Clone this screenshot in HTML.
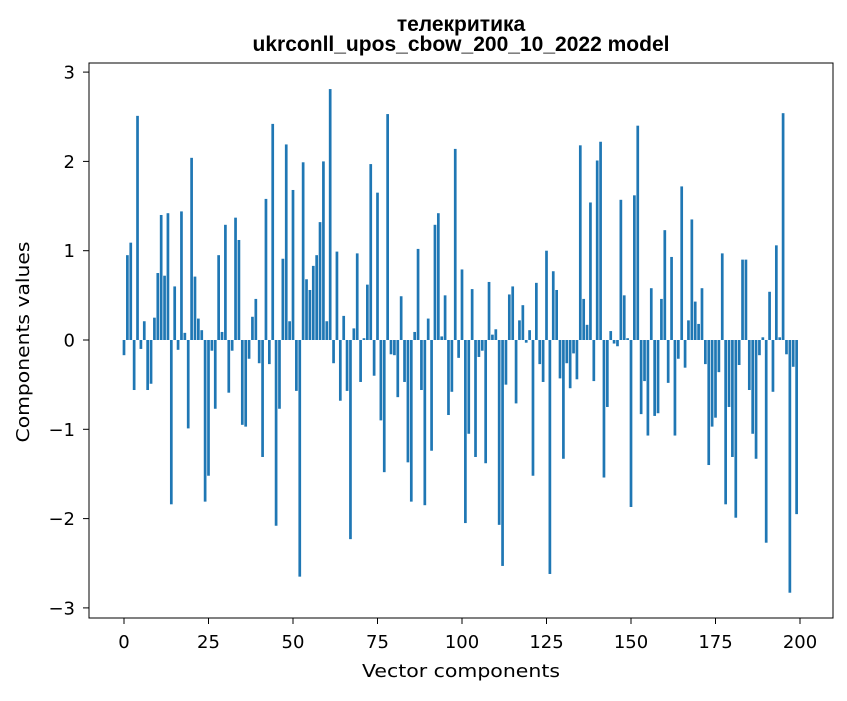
<!DOCTYPE html>
<html><head><meta charset="utf-8"><style>
body{margin:0;background:#fff;}
svg text{font-family:"DejaVu Sans","Liberation Sans",sans-serif;fill:#000;}
svg text.title{font-family:"Liberation Sans","DejaVu Sans",sans-serif;font-weight:bold;}
</style></head><body>
<svg id="chart" width="847" height="696" xmlns="http://www.w3.org/2000/svg">
<rect width="847" height="696" fill="#fff"/>
<text class="title" x="461" y="31" text-anchor="middle" font-size="21">телекритика</text>
<text class="title" x="461" y="51" text-anchor="middle" font-size="21" textLength="417" lengthAdjust="spacingAndGlyphs">ukrconll_upos_cbow_200_10_2022 model</text>
<g id="bars"></g>
<rect x="89" y="63" width="744" height="555" fill="none" stroke="#000" stroke-width="1"/>
<g id="xticks"></g>
<g id="yticks"></g>
<text x="461" y="677" text-anchor="middle" font-size="18" textLength="198" lengthAdjust="spacingAndGlyphs">Vector components</text>
<text transform="translate(29,342) rotate(-90)" text-anchor="middle" font-size="18" textLength="201" lengthAdjust="spacingAndGlyphs">Components values</text>
</svg>
<script>
const values = [-0.17,0.95,1.09,-0.56,2.51,-0.10,0.21,-0.56,-0.49,0.25,
0.75,1.40,0.72,1.42,-1.84,0.60,-0.11,1.44,0.08,-0.99,
2.04,0.71,0.24,0.11,-1.81,-1.52,-0.12,-0.77,0.95,0.09,
1.29,-0.59,-0.12,1.37,1.12,-0.95,-0.97,-0.21,0.26,0.46,
-0.26,-1.31,1.58,-0.27,2.42,-2.08,-0.77,0.91,2.19,0.21,
1.68,-0.57,-2.65,1.99,0.68,0.56,0.83,0.95,1.32,2.00,
0.21,2.81,-0.26,0.99,-0.68,0.27,-0.57,-2.23,0.13,0.97,
-0.47,0.02,0.62,1.97,-0.40,1.65,-0.90,-1.48,2.53,-0.16,
-0.17,-0.64,0.49,-0.47,-1.37,-1.81,0.09,1.02,-0.56,-1.85,
0.24,-1.24,1.29,1.42,0.04,0.50,-0.84,-0.58,2.14,-0.20,
0.79,-2.05,-1.05,0.57,-1.31,-0.19,-0.12,-1.38,0.65,0.06,
0.12,-2.07,-2.53,-0.50,0.51,0.60,-0.71,0.22,0.39,-0.03,
0.11,-1.52,0.64,-0.27,-0.47,1.00,-2.62,0.77,0.56,-0.43,
-1.33,-0.26,-0.54,-0.15,-0.44,2.18,0.46,0.17,1.54,-0.46,
2.01,2.22,-1.54,-0.75,0.10,-0.04,-0.07,1.57,0.50,0.02,
-1.87,1.62,2.40,-0.83,-0.46,-1.07,0.58,-0.85,-0.82,0.46,
1.23,-0.48,0.93,-1.07,-0.21,1.72,-0.31,0.22,1.35,0.43,
0.18,0.58,-0.27,-1.40,-0.97,-0.87,-0.36,0.97,-1.84,-0.75,
-1.31,-1.99,-0.28,0.90,0.90,-0.56,-1.05,-1.33,-0.17,0.03,
-2.27,0.54,-0.58,1.06,0.03,2.54,-0.16,-2.83,-0.30,-1.95];
const xTicks = [0,25,50,75,100,125,150,175,200];
const yTicks = [-3,-2,-1,0,1,2,3];
const NS='http://www.w3.org/2000/svg';
const xs = v => 124 + v*(676/200);
const ys = v => 340 - v*89.3;
const bw = 0.8*676/200;
const gb=document.getElementById('bars');
values.forEach((v,i)=>{
  const r=document.createElementNS(NS,'rect');
  const y0=ys(0), y1=ys(v);
  r.setAttribute('x',xs(i)-bw/2);
  r.setAttribute('y',Math.min(y0,y1));
  r.setAttribute('width',bw);
  r.setAttribute('height',Math.abs(y1-y0));
  r.setAttribute('fill','#1f77b4');
  
  
  gb.appendChild(r);
});
const gx=document.getElementById('xticks');
xTicks.forEach(t=>{
  const l=document.createElementNS(NS,'line');
  l.setAttribute('x1',xs(t));l.setAttribute('x2',xs(t));
  l.setAttribute('y1',618);l.setAttribute('y2',624);
  l.setAttribute('stroke','#000');
  
  
  gx.appendChild(l);
  const tx=document.createElementNS(NS,'text');
  tx.setAttribute('x',xs(t));tx.setAttribute('y',648);
  tx.setAttribute('text-anchor','middle');tx.setAttribute('font-size','18');
  tx.textContent=t;
  
  
  gx.appendChild(tx);
});
const gy=document.getElementById('yticks');
yTicks.forEach(t=>{
  const l=document.createElementNS(NS,'line');
  l.setAttribute('x1',83);l.setAttribute('x2',89);
  l.setAttribute('y1',ys(t));l.setAttribute('y2',ys(t));
  l.setAttribute('stroke','#000');
  
  
  gy.appendChild(l);
  const tx=document.createElementNS(NS,'text');
  tx.setAttribute('x',75);tx.setAttribute('y',ys(t)+6.5);
  tx.setAttribute('text-anchor','end');tx.setAttribute('font-size','18');
  tx.textContent=(t<0?'\u2212':'')+Math.abs(t);
  
  
  gy.appendChild(tx);
});
</script>
</body></html>
